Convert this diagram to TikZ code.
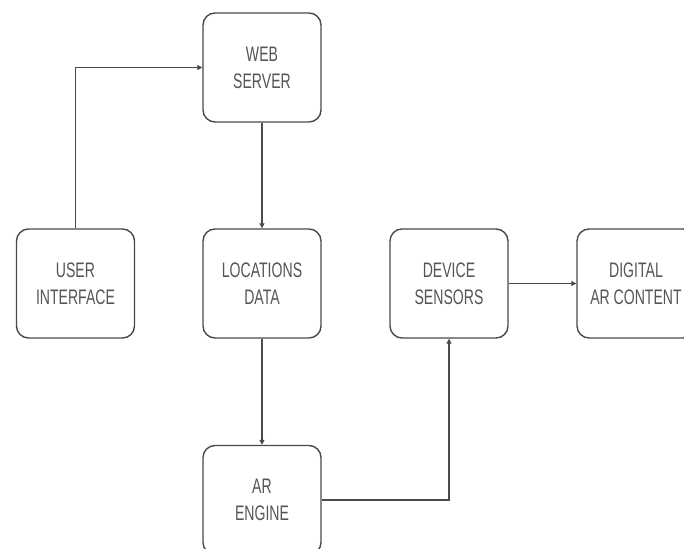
\documentclass[tikz,border=0pt]{standalone}
\usepackage{fontspec}
\setmainfont{Liberation Sans}[FakeStretch=0.67]
\usetikzlibrary{arrows.meta}
\definecolor{edge}{HTML}{4A4A4A}
\definecolor{txt}{HTML}{555555}
\tikzset{
  blk/.style={draw=edge, line width=1.4pt, rounded corners=12pt, minimum width=118pt, minimum height=109pt, inner sep=0pt, align=center, text=txt, font=\fontsize{21}{27}\selectfont},
  conn/.style={draw=edge, line width=1.3pt, -{Triangle[length=5pt,width=5pt]}},
}
\begin{document}
\begin{tikzpicture}[x=1pt,y=-1pt]
\useasboundingbox (0,0) rectangle (684,548);
\clip (0,0) rectangle (684,548);
\fill[white] (0,0) rectangle (684,548);
\node[blk] (ws) at (262,67.5) {WEB\\SERVER};
\node[blk] (ui) at (75.5,283.5) {USER\\INTERFACE};
\node[blk] (ld) at (262,283.5) {LOCATIONS\\DATA};
\node[blk] (ds) at (449,283.5) {DEVICE\\SENSORS};
\node[blk] (dac) at (636,283.5) {DIGITAL\\AR CONTENT};
\node[blk] (ar) at (262,500) {AR\\ENGINE};
\draw[conn] (ui.north) |- (ws.west);
\draw[conn] (ws.south) -- (ld.north);
\draw[conn] (ld.south) -- (ar.north);
\draw[conn] (ar.east) -| (ds.south);
\draw[conn, line width=1.8pt] (ds.east) -- (dac.west);
\end{tikzpicture}
\end{document}
